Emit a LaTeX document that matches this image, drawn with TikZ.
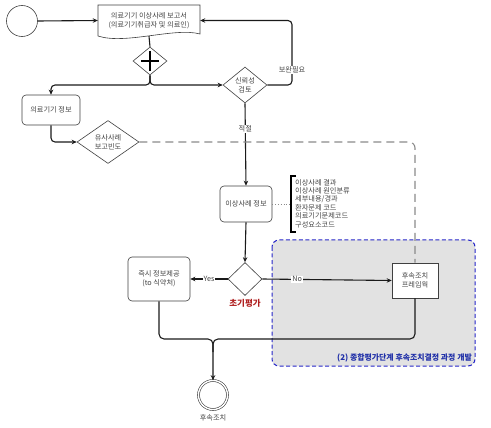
\documentclass[tikz,border=0pt]{standalone}
\usepackage{fontspec}
\setmainfont{Noto Sans CJK KR}
\usetikzlibrary{shapes.geometric,arrows.meta}
\definecolor{txtg}{HTML}{444444}
\definecolor{lineg}{HTML}{1A1A1A}
\definecolor{regfill}{HTML}{E2E2E2}
\definecolor{regblue}{HTML}{2626C8}
\definecolor{labred}{HTML}{B02020}
\definecolor{labblue}{HTML}{1F2FA8}
\definecolor{dashg}{HTML}{8A8A8A}
\begin{document}
\begin{tikzpicture}[x=1pt,y=-1pt,
 flow/.style={draw=lineg, line width=1.1pt},
 arr/.style={flow, -{Stealth[length=5pt,width=4.5pt]}},
 box/.style={draw=black!75, line width=0.6pt, rounded corners=4pt, fill=white, align=center, font=\fontsize{7.2}{9}\selectfont, text=txtg, inner sep=1pt},
 dia/.style={diamond, draw=black!75, line width=0.6pt, fill=white, inner sep=0pt},
 txt/.style={align=center, font=\fontsize{7.2}{9}\selectfont, text=txtg, inner sep=0.5pt},
 lab/.style={txt, fill=white, inner sep=1pt},
 gdash/.style={draw=dashg, line width=1.1pt, dash pattern=on 8pt off 5pt},
]
\useasboundingbox (0,0) rectangle (491,428);

% region
\draw[regblue, line width=1pt, dash pattern=on 4pt off 2.5pt, fill=regfill, rounded corners=7pt] (272,240) rectangle (475,366);
\node[anchor=base east, font=\fontsize{7.9}{9}\selectfont\bfseries, text=labblue, inner sep=0] (reglab) at (472,360) {(2) 종합평가단계 후속조치결정 과정 개발};

% start
\node[circle, draw=black!75, line width=0.6pt, minimum size=31pt, inner sep=0] (start) at (22,21) {};

% document
\draw[draw=black!75, line width=0.6pt, fill=white] (98,5) -- (200,5) -- (200,34) .. controls (175,27) and (125,45) .. (98,36) -- cycle;
\node[txt, minimum width=102pt, minimum height=31pt] (doc) at (149,20.5) {의료기기 이상사례 보고서\\(의료기기취급자 및 의료인)};

% gateway
\node[dia, minimum width=34pt, minimum height=28pt] (gw) at (150,61) {};
\draw[black, line width=1.3pt] (141,61) -- (159,61) (150,51) -- (150,71);
\coordinate (j1) at (150,85);

% reliability
\node[dia, minimum width=44pt, minimum height=36pt] (rel) at (245,85) {};
\node[txt] (relt) at (rel) {신뢰성\\검토};
\coordinate (c1) at (292,50);

% info
\node[box, minimum width=58pt, minimum height=30pt] (info) at (51,110) {의료기기 정보};

% similar cases
\node[dia, minimum width=62pt, minimum height=43pt] (sim) at (108,142) {};
\node[txt] (simt) at (sim) {유사사례\\보고빈도};

% event info
\node[box, minimum width=52pt, minimum height=36pt] (ev) at (246,204) {이상사례 정보};
\draw[black, line width=1.4pt] (296,176) -- (291,176) -- (291,232) -- (296,232);
\coordinate (br) at (290,204);
\node[anchor=north west, align=left, font=\fontsize{7.2}{8.4}\selectfont, text=txtg, inner sep=0] (list) at (295,179) {이상사례 결과\\이상사례 원인분류\\세부내용/경과\\환자문제 코드\\의료기기문제코드\\구성요소코드};

% initial evaluation
\node[dia, minimum width=34pt, minimum height=33pt] (init) at (245,279) {};
\node[font=\fontsize{8.5}{10}\selectfont\bfseries, text=labred, inner sep=0] (initl) at (245,303) {초기평가};

% immediate info
\node[box, minimum width=62pt, minimum height=44pt] (imm) at (159,279) {즉시 정보제공\\(to 식약처)};

% follow-up framework
\node[box, rounded corners=0pt, minimum width=46pt, minimum height=35pt] (fw) at (415,280.5) {후속조치\\프레임웍};

% end
\node[circle, draw=black!75, line width=0.6pt, double, double distance=1.4pt, minimum size=29pt, inner sep=0] (end) at (213,395) {};
\node[txt] (endl) at (213,418) {후속조치};
\coordinate (m) at (213,339);

% connectors
\draw[arr] (start.east) -- (doc.west);
\draw[flow] (doc.south) -- (gw.north);
\draw[arr, rounded corners=4pt] (gw.south) -- (j1) -| (info.north);
\draw[arr, rounded corners=4pt] (gw.south) -- (j1) -- (rel.west);
\draw[arr, rounded corners=4pt] (rel.east) -| (c1) |- (doc.east);
\node[lab] (bw) at (292,70) {보완필요};
\draw[arr] (rel.south) -- node[lab, pos=0.31] (ok) {적절} (ev.north);
\draw[arr, rounded corners=4pt] (info.south) |- (sim.west);
\draw[gdash, rounded corners=6pt] (sim.east) -| (fw.north);
\draw[dashg, line width=0.8pt, dotted] (ev.east) -- (br);
\draw[arr] (ev.south) -- (init.north);
\draw[arr] (init.west) -- node[lab, pos=0.5] (yes) {Yes} (imm.east);
\draw[arr] (init.east) -- node[lab, pos=0.27] (no) {No} (fw.west);
\draw[arr, rounded corners=5pt] (imm.south) |- (m) -- (end.north);
\draw[flow, rounded corners=5pt] (fw.south) |- (m) -- (213,352);
\end{tikzpicture}
\end{document}
